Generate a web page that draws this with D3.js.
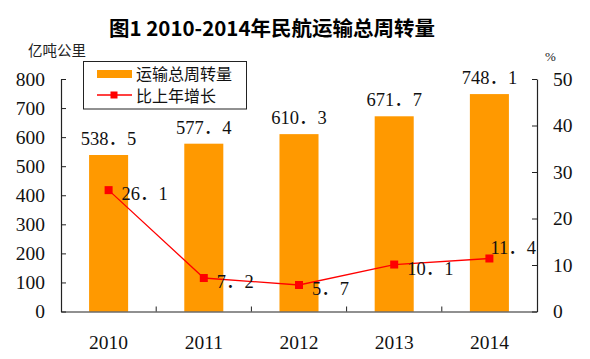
<!DOCTYPE html>
<html><head><meta charset="utf-8">
<script src="https://cdn.jsdelivr.net/npm/d3@7"></script>
<style>body{margin:0;background:#fff}svg{display:block}</style>
</head><body>
<svg id="c" width="590" height="359"></svg>
<script>
const years = ["2010","2011","2012","2013","2014"];
const turnover = [538.5, 577.4, 610.3, 671.7, 748.1];
const growth = [26.1, 7.2, 5.7, 10.1, 11.4];
const leftTicks = [0,100,200,300,400,500,600,700,800];
const rightTicks = [0,10,20,30,40,50];
const titleText = "图1 2010-2014年民航运输总周转量";
const leftUnit = "亿吨公里";
const rightUnit = "%";
const legendLabels = ["运输总周转量","比上年增长"];

const svg = d3.select("#c");
const serif = "'Liberation Serif','Times New Roman','Noto Sans CJK SC',serif";
const cjk = "'Noto Sans CJK SC',sans-serif";
const orange = "#FF9900", red = "#FF0000";

const x = d3.scaleBand().domain(years).range([61, 537]).paddingInner(0.59).paddingOuter(0.295);
const xb = d3.scaleBand().domain(years).range([61, 537]);
const y = d3.scaleLinear().domain([0, 800]).range([311.5, 79]);
const yr = d3.scaleLinear().domain([0, 50]).range([311.5, 79]);

// title
svg.append("text").attr("x", 272).attr("y", 36).attr("text-anchor", "middle")
  .attr("font-family", cjk).attr("font-weight", "bold").attr("font-size", 20.5).text(titleText);
svg.append("text").attr("x", 28).attr("y", 56).attr("font-family", cjk).attr("font-size", 14.5).attr("fill","#222").text(leftUnit);
svg.append("text").attr("x", 545).attr("y", 61).attr("font-family", serif).attr("font-size", 13).attr("fill","#222").text(rightUnit);

// bars
svg.selectAll("rect.bar").data(turnover).join("rect").attr("class","bar")
  .attr("x", (d,i) => x(years[i])).attr("width", x.bandwidth())
  .attr("y", d => y(d)).attr("height", d => y(0) - y(d)).attr("fill", orange);

const fmt = d => d.toFixed(1).replace(".", "．");

svg.selectAll("text.bl").data(turnover).join("text").attr("class","bl")
  .attr("x", (d,i) => xb(years[i]) + xb.bandwidth()/2).attr("y", d => y(d) - 10)
  .attr("text-anchor","middle").attr("font-family", serif).attr("font-size", 18.5).attr("fill","#111")
  .text(fmt);

// axes
const gl = svg.append("g").attr("transform","translate(61,0)")
  .call(d3.axisLeft(y).tickValues(leftTicks).tickSize(-5).tickPadding(16).tickSizeOuter(0));
const gr = svg.append("g").attr("transform","translate(537,0)")
  .call(d3.axisRight(yr).tickValues(rightTicks).tickSize(-5).tickPadding(16).tickSizeOuter(0));
const gb = svg.append("g").attr("transform","translate(0,311.5)")
  .call(d3.axisBottom(xb).tickSize(0).tickPadding(24).tickSizeOuter(0));
// band boundary ticks on bottom axis
svg.append("g").selectAll("line").data(years.slice(1)).join("line")
  .attr("x1", d => xb(d)).attr("x2", d => xb(d)).attr("y1", 311.5).attr("y2", 306.5)
  .attr("stroke","#222");
[gl, gr, gb].forEach(g => {
  g.selectAll("path.domain").attr("stroke","#222").attr("stroke-width",1.2);
  g.selectAll(".tick line").attr("stroke","#222");
  g.selectAll("text").attr("font-family", serif).attr("font-size", 19.5).attr("fill","#111");
});

// line
const pts = growth.map((g,i) => [xb(years[i]) + xb.bandwidth()/2, yr(g)]);
svg.append("path").attr("d", d3.line()(pts)).attr("fill","none").attr("stroke", red).attr("stroke-width", 1.3);
svg.selectAll("rect.mk").data(pts).join("rect").attr("class","mk")
  .attr("x", d => d[0]-4).attr("y", d => d[1]-4).attr("width", 8).attr("height", 8).attr("fill", red);
svg.selectAll("text.ll").data(growth).join("text").attr("class","ll")
  .attr("x", (d,i) => pts[i][0] + (i === 4 ? 1 : 13))
  .attr("y", (d,i) => pts[i][1] + (i === 4 ? -4 : 10))
  .attr("font-family", serif).attr("font-size", 18.5).attr("fill","#111").text(fmt);

// legend
svg.append("rect").attr("x", 83.5).attr("y", 61.5).attr("width", 163).attr("height", 47.5)
  .attr("fill","#fff").attr("stroke","#222").attr("stroke-width",1);
svg.append("rect").attr("x", 97).attr("y", 70).attr("width", 35).attr("height", 8).attr("fill", orange);
svg.append("line").attr("x1", 97).attr("x2", 132).attr("y1", 95).attr("y2", 95).attr("stroke", red).attr("stroke-width", 1.3);
svg.append("rect").attr("x", 110.5).attr("y", 91.5).attr("width", 7).attr("height", 7).attr("fill", red);
svg.selectAll("text.lg").data(legendLabels).join("text").attr("class","lg")
  .attr("x", 136).attr("y", (d,i) => 80 + i*22)
  .attr("font-family", cjk).attr("font-size", 16).attr("fill","#111").text(d => d);
</script>
</body></html>
